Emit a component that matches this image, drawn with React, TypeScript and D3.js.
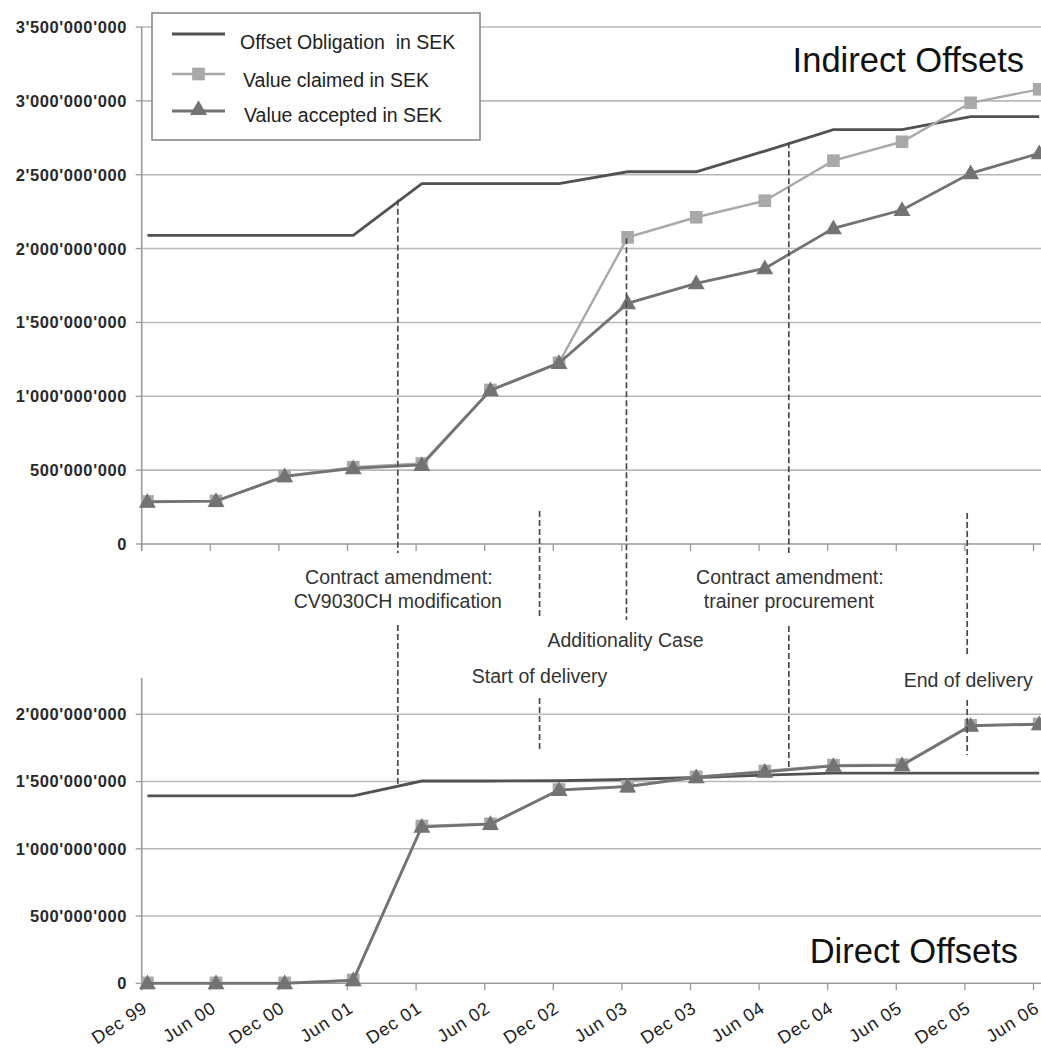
import React from "react";
import * as d3 from "d3";

// ---- Data (values in million SEK) ----
const periods = ["Dec 99", "Jun 00", "Dec 00", "Jun 01", "Dec 01", "Jun 02", "Dec 02", "Jun 03", "Dec 03", "Jun 04", "Dec 04", "Jun 05", "Dec 05", "Jun 06"];

const indirectObligation = [2090, 2090, 2090, 2090, 2440, 2440, 2440, 2520, 2520, 2660, 2805, 2805, 2893, 2893];
const indirectClaimed = [288, 292, 460, 520, 545, 1043, 1227, 2076, 2212, 2324, 2595, 2723, 2987, 3078];
const indirectAccepted = [285, 290, 458, 512, 535, 1040, 1225, 1629, 1765, 1866, 2137, 2261, 2509, 2645];

const directObligation = [1393, 1393, 1393, 1393, 1504, 1504, 1506, 1516, 1530, 1548, 1563, 1563, 1563, 1563];
const directClaimed = [3, 3, 3, 25, 1170, 1186, 1440, 1465, 1535, 1578, 1622, 1626, 1918, 1928];
const directAccepted = [0, 0, 0, 22, 1164, 1184, 1437, 1462, 1532, 1572, 1616, 1621, 1915, 1926];

const indirectTicks = [0, 500, 1000, 1500, 2000, 2500, 3000, 3500];
const directTicks = [0, 500, 1000, 1500, 2000];

const legendLabels = ["Offset Obligation  in SEK", "Value claimed in SEK", "Value accepted in SEK"];

// events: months after Dec 99
const eventMonths = [22.4, 34.8, 42.4, 56.6, 72.2];
const eventLines1 = ["Contract amendment:", "", "", "Contract amendment:", ""];
const eventLines2 = ["CV9030CH modification", "", "", "trainer procurement", ""];
const eventLabels = ["", "Start of delivery", "Additionality Case", "", "End of delivery"];

const W = 1041;
const H = 1053;

const OBL = "#525252";
const CLA = "#a9a9a9";
const ACC = "#737373";
const GRID = "#b8b8b8";
const AXIS = "#9a9a9a";
const FONT = "'Liberation Sans', Arial, sans-serif";

const fmt = (m: number) => d3.format(",")(m * 1e6).replace(/,/g, "'");

export default function App() {
  // x in months after Dec 99; ticks every 6 months
  const x = d3.scaleLinear().domain([0, 78]).range([141.7, 1033.5]);
  const px = (i: number) => x(i * 6 + 0.5);
  const tx = (i: number) => x(i * 6);

  const yT = d3.scaleLinear().domain([0, 3500]).range([544, 27]);
  const yB = d3.scaleLinear().domain([0, 2000]).range([983.3, 714.3]);

  const mkLine = (y: d3.ScaleLinear<number, number>) =>
    d3.line<number>().x((_, i) => px(i)).y((v) => y(v));

  const lineT = mkLine(yT);
  const lineB = mkLine(yB);

  const square = d3.symbol().type(d3.symbolSquare).size(160)();
  const tri = d3.symbol().type(d3.symbolTriangle).size(125)();

  const xLeft = x(0);
  const xRight = W;

  const renderPanel = (
    y: d3.ScaleLinear<number, number>,
    ticks: number[],
    line: d3.Line<number>,
    obl: number[],
    cla: number[],
    acc: number[],
    axisTop: number,
    key: string
  ) => (
    <g key={key}>
      {ticks.map((t) => (
        <g key={t}>
          {t > 0 && (
            <line x1={xLeft} x2={xRight} y1={y(t)} y2={y(t)} stroke={GRID} strokeWidth={1.6} />
          )}
          <line x1={xLeft - 6} x2={xLeft} y1={y(t)} y2={y(t)} stroke={AXIS} strokeWidth={1.3} />
          <text
            x={127}
            y={y(t)}
            dy="0.36em"
            textAnchor="end"
            fontFamily={FONT}
            fontSize={16.5}
            fontWeight="bold"
            letterSpacing={0.6}
            fill="#2a2a2a"
          >
            {fmt(t)}
          </text>
        </g>
      ))}
      <line x1={xLeft} x2={xRight} y1={y(0)} y2={y(0)} stroke={AXIS} strokeWidth={1.6} />
      <line x1={xLeft} x2={xLeft} y1={axisTop} y2={y(0) + 7} stroke={AXIS} strokeWidth={1.6} />
      {periods.map((p, i) => (
        <line key={p} x1={tx(i)} x2={tx(i)} y1={y(0)} y2={y(0) + 7} stroke={AXIS} strokeWidth={1.3} />
      ))}
      <path d={line(obl) || ""} fill="none" stroke={OBL} strokeWidth={2.8} />
      <path d={line(cla) || ""} fill="none" stroke={CLA} strokeWidth={2.4} />
      {cla.map((v, i) => (
        <path key={"s" + i} d={square || ""} transform={`translate(${px(i)},${y(v)})`} fill={CLA} />
      ))}
      <path d={line(acc) || ""} fill="none" stroke={ACC} strokeWidth={2.8} />
      {acc.map((v, i) => (
        <path key={"t" + i} d={tri || ""} transform={`translate(${px(i)},${y(v) + 1})`} fill={ACC} />
      ))}
    </g>
  );

  // dashed annotation segments (top and bottom parts of each event)
  const segs: [number, number, number][] = [
    [0, yT(2330), yT(0) + 9],
    [0, 625, yB(1480)],
    [1, 511, 617],
    [1, 698, 752],
    [2, yT(2070), 620],
    [3, yT(2720), yT(0) + 9],
    [3, 626, yB(1590)],
    [4, 513, 657],
    [4, 700, 755],
  ];

  const textProps = { fontFamily: FONT, fontSize: 19.5, fill: "#333", textAnchor: "middle" as const };

  return (
    <svg width={W} height={H} style={{ position: "absolute", left: 0, top: 0, background: "#fff" }}>
      <rect x={0} y={0} width={W} height={H} fill="#fff" />
      {renderPanel(yT, indirectTicks, lineT, indirectObligation, indirectClaimed, indirectAccepted, yT(3500), "top")}
      {renderPanel(yB, directTicks, lineB, directObligation, directClaimed, directAccepted, 678, "bottom")}

      {segs.map(([e, a, b], k) => (
        <line
          key={k}
          x1={x(eventMonths[e])}
          x2={x(eventMonths[e])}
          y1={a}
          y2={b}
          stroke="#4a4a4a"
          strokeWidth={1.7}
          strokeDasharray="6,3"
        />
      ))}

      {/* event labels */}
      {eventMonths.map((m, e) => (
        <g key={"ev" + e}>
          {eventLines1[e] && (
            <text x={x(m) + 1} y={584} {...textProps}>
              {eventLines1[e]}
            </text>
          )}
          {eventLines2[e] && (
            <text x={x(m)} y={608} {...textProps}>
              {eventLines2[e]}
            </text>
          )}
        </g>
      ))}
      <text x={x(eventMonths[2]) - 1} y={647} {...textProps}>{eventLabels[2]}</text>
      <text x={x(eventMonths[1])} y={683} {...textProps}>{eventLabels[1]}</text>
      <text x={x(eventMonths[4]) + 1} y={687} {...textProps}>{eventLabels[4]}</text>

      {/* panel titles */}
      <text x={1024} y={72} textAnchor="end" fontFamily={FONT} fontSize={34.5} fill="#111">
        Indirect Offsets
      </text>
      <text x={1018} y={963} textAnchor="end" fontFamily={FONT} fontSize={34.5} fill="#111">
        Direct Offsets
      </text>

      {/* x tick labels */}
      {periods.map((p, i) => (
        <text
          key={"xl" + p}
          transform={`translate(${tx(i) + 7},${1011}) rotate(-33)`}
          textAnchor="end"
          fontFamily={FONT}
          fontSize={18}
          letterSpacing={0.8}
          fill="#222"
        >
          {p}
        </text>
      ))}

      {/* legend */}
      <g>
        <rect x={152} y={13} width={328} height={127} fill="#fff" stroke="#8a8a8a" strokeWidth={1.6} />
        <line x1={172} x2={225} y1={34} y2={34} stroke={OBL} strokeWidth={3} />
        <line x1={172} x2={225} y1={74} y2={74} stroke={CLA} strokeWidth={2.4} />
        <path d={square || ""} transform={`translate(198.5,74)`} fill={CLA} />
        <line x1={172} x2={225} y1={111} y2={111} stroke={ACC} strokeWidth={2.8} />
        <path d={tri || ""} transform={`translate(198.5,110)`} fill={ACC} />
        <text x={240} y={49} fontFamily={FONT} fontSize={19.5} fill="#222" style={{ whiteSpace: "pre" }}>{legendLabels[0]}</text>
        <text x={243} y={87} fontFamily={FONT} fontSize={19.5} fill="#222">{legendLabels[1]}</text>
        <text x={244} y={122} fontFamily={FONT} fontSize={19.5} fill="#222">{legendLabels[2]}</text>
      </g>
    </svg>
  );
}
